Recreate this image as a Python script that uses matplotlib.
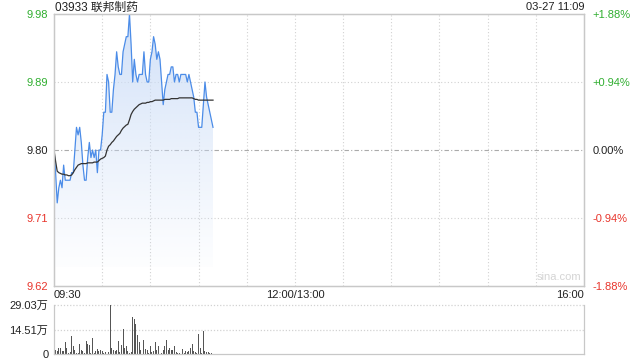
import numpy as np
import matplotlib
matplotlib.use('Agg')
from matplotlib import pyplot as plt
from matplotlib.patches import Polygon

plt.rcParams['font.family'] = ['Liberation Sans', 'Noto Sans CJK SC']

title = '03933 联邦制药'
stamp = '03-27 11:09'
prev_close = 9.80

# one value per minute from 09:30 to 11:09
price = [9.80, 9.77, 9.73, 9.75, 9.76, 9.75, 9.78, 9.76, 9.76, 9.76,
         9.76, 9.77, 9.77, 9.80, 9.83, 9.82, 9.83, 9.81, 9.78, 9.76,
         9.76, 9.79, 9.81, 9.79, 9.80, 9.79, 9.80, 9.77, 9.80, 9.80,
         9.82, 9.85, 9.85, 9.90, 9.89, 9.85, 9.85, 9.88, 9.90, 9.93,
         9.91, 9.90, 9.90, 9.93, 9.94, 9.95, 9.95, 9.98, 9.94, 9.89,
         9.92, 9.90, 9.89, 9.90, 9.90, 9.90, 9.93, 9.90, 9.89, 9.89,
         9.92, 9.93, 9.95, 9.94, 9.92, 9.93, 9.92, 9.89, 9.86, 9.88,
         9.89, 9.90, 9.90, 9.91, 9.91, 9.89, 9.90, 9.90, 9.89, 9.90,
         9.90, 9.90, 9.90, 9.89, 9.90, 9.89, 9.88, 9.87, 9.85, 9.85,
         9.83, 9.83, 9.83, 9.86, 9.89, 9.87, 9.86, 9.85, 9.84, 9.83]

avg = [9.800, 9.785, 9.772, 9.770, 9.769, 9.768, 9.768, 9.767, 9.767, 9.766,
       9.766, 9.767, 9.770, 9.774, 9.777, 9.780, 9.781, 9.782, 9.782, 9.782,
       9.782, 9.783, 9.783, 9.783, 9.783, 9.784, 9.784, 9.784, 9.786, 9.788,
       9.789, 9.790, 9.792, 9.800, 9.805, 9.807, 9.810, 9.812, 9.815, 9.818,
       9.820, 9.822, 9.826, 9.829, 9.831, 9.833, 9.834, 9.840, 9.847, 9.851,
       9.854, 9.856, 9.858, 9.860, 9.861, 9.862, 9.862, 9.862, 9.863, 9.863,
       9.864, 9.864, 9.865, 9.866, 9.866, 9.866, 9.866, 9.866, 9.866, 9.867,
       9.867, 9.867, 9.867, 9.868, 9.868, 9.868, 9.868, 9.868, 9.869, 9.869,
       9.869, 9.869, 9.869, 9.869, 9.869, 9.869, 9.869, 9.868, 9.867, 9.867,
       9.866, 9.866, 9.866, 9.866, 9.866, 9.866, 9.866, 9.866, 9.866, 9.866]

# volume in 万 shares
volume = [2.9, 2.5, 1.6, 3.5, 3.5, 1.6, 1.6, 6.9, 3.5, 0.6,
          1.0, 10.8, 4.9, 2.5, 0.6, 0.8, 6.1, 2.5, 1.6, 0.5,
          7.8, 6.1, 5.5, 0.8, 9.4, 0.4, 1.6, 2.9, 2.0, 2.5,
          1.6, 0.6, 1.2, 0.8, 1.0, 29.03, 3.5, 2.5, 1.6, 2.2,
          7.5, 1.0, 5.5, 14.7, 3.5, 4.9, 1.6, 0.8, 1.2, 21.9,
          20.5, 17.9, 11.4, 6.9, 2.2, 0.2, 8.4, 2.9, 2.2, 0.8,
          4.5, 1.0, 1.6, 7.3, 2.5, 4.5, 0.6, 0.8, 2.5, 4.9,
          8.4, 2.5, 3.5, 2.2, 2.5, 4.5, 1.0, 0.6, 0.4, 0.2,
          3.1, 0.6, 1.6, 1.0, 2.0, 3.5, 6.1, 1.6, 1.0, 0.6,
          12.0, 3.5, 0.3, 13.7, 1.6, 1.0, 1.0, 0.3, 0.3, 0.2]

price_ticks = [9.62, 9.71, 9.80, 9.89, 9.98]
pct_labels = ['-1.88%', '-0.94%', '0.00%', '+0.94%', '+1.88%']
tick_colors = ['#e8352c', '#e8352c', '#222222', '#2fae2f', '#2fae2f']
vol_ticks = [0, 14.51, 29.03]
vol_labels = ['0', '14.51万', '29.03万']
time_labels = ['09:30', '12:00/13:00', '16:00']
total_minutes = 330

minutes = np.arange(len(price))
grid_c = '#d2d2d2'
border_c = '#c8c8c8'

fig = plt.figure(figsize=(6.4, 3.6), dpi=100)
ax = fig.add_axes([54 / 640, 1 - 286 / 360, 530 / 640, 272 / 360])
axv = fig.add_axes([54 / 640, 1 - 354 / 360, 530 / 640, 49 / 360])

ax.set_xlim(0, total_minutes)
ax.set_ylim(price_ticks[0], price_ticks[-1])

# gradient fill under the price line
grad = np.linspace(0, 1, 256)
cols = np.ones((256, 1, 4))
cols[:, 0, :3] = [0.80, 0.87, 0.97]
cols[:, 0, 3] = 0.04 + 0.86 * grad ** 1.1
img = ax.imshow(cols, extent=(0, minutes[-1], 9.645, 9.98), origin='lower',
                aspect='auto', zorder=1, interpolation='bilinear')
poly = Polygon(np.column_stack([np.r_[minutes, minutes[-1], 0],
                                np.r_[price, 9.62, 9.62]]),
               closed=True, transform=ax.transData, facecolor='none', edgecolor='none')
ax.add_patch(poly)
img.set_clip_path(poly)

for t in range(30, total_minutes, 30):
    ax.axvline(t, color=grid_c, lw=0.8, ls=(0, (1, 2)), zorder=0)
for p in [9.71, 9.89]:
    ax.axhline(p, color=grid_c, lw=0.8, ls=(0, (1, 2)), zorder=0)
ax.axhline(prev_close, color='#aaaaaa', lw=0.8, ls=(0, (4, 2, 1, 2)), zorder=0)

ax.plot(minutes, price, color='#4b8ce8', lw=0.9, zorder=3)
ax.plot(minutes, avg, color='#333333', lw=0.9, zorder=4)

ax.set_xticks([])
ax.set_yticks(price_ticks)
ax.set_yticklabels([f'{p:.2f}' for p in price_ticks])
ax.tick_params(axis='y', length=0, pad=4, labelsize=8)
for lab, c in zip(ax.get_yticklabels(), tick_colors):
    lab.set_color(c)
axr = ax.twinx()
axr.set_ylim(ax.get_ylim())
axr.set_yticks(price_ticks)
axr.set_yticklabels(pct_labels)
axr.tick_params(axis='y', length=0, pad=6, labelsize=8)
for lab, c in zip(axr.get_yticklabels(), tick_colors):
    lab.set_color(c)
for a in (ax, axr):
    for s in a.spines.values():
        s.set_color(border_c)
        s.set_linewidth(0.9)

fig.text(55 / 640, 1 - 7.5 / 360, title, fontsize=8.5, ha='left', va='center', color='#222222')
fig.text(584 / 640, 1 - 7.5 / 360, stamp, fontsize=8, ha='right', va='center', color='#222222')
ax.text(0.995, 0.015, 'sina.com', transform=ax.transAxes, fontsize=8, ha='right', va='bottom', color='#d4d4d4')
for pos, lab, ha in zip([0, 150, total_minutes], time_labels, ['left', 'center', 'right']):
    ax.text(pos, -0.014, lab, transform=ax.get_xaxis_transform(), fontsize=8,
            ha=ha, va='top', color='#222222')

# volume panel
axv.bar(minutes, volume, width=0.6, color='#555555', zorder=2)
axv.set_xlim(0, total_minutes)
axv.set_ylim(0, vol_ticks[-1])
axv.set_xticks([])
axv.set_yticks(vol_ticks)
axv.set_yticklabels(vol_labels)
axv.tick_params(axis='y', length=0, pad=4, labelsize=8, labelcolor='#222222')
axv.axhline(vol_ticks[1], color=grid_c, lw=0.9, ls=(0, (1, 1.5)), zorder=0)
axv.axhline(vol_ticks[2], color=grid_c, lw=0.9, ls=(0, (1, 1.5)), zorder=0, clip_on=False)
axv.spines['top'].set_visible(False)
for s in ['left', 'right', 'bottom']:
    axv.spines[s].set_color(border_c)
    axv.spines[s].set_linewidth(0.9)

fig.savefig('out.png', dpi=100)
